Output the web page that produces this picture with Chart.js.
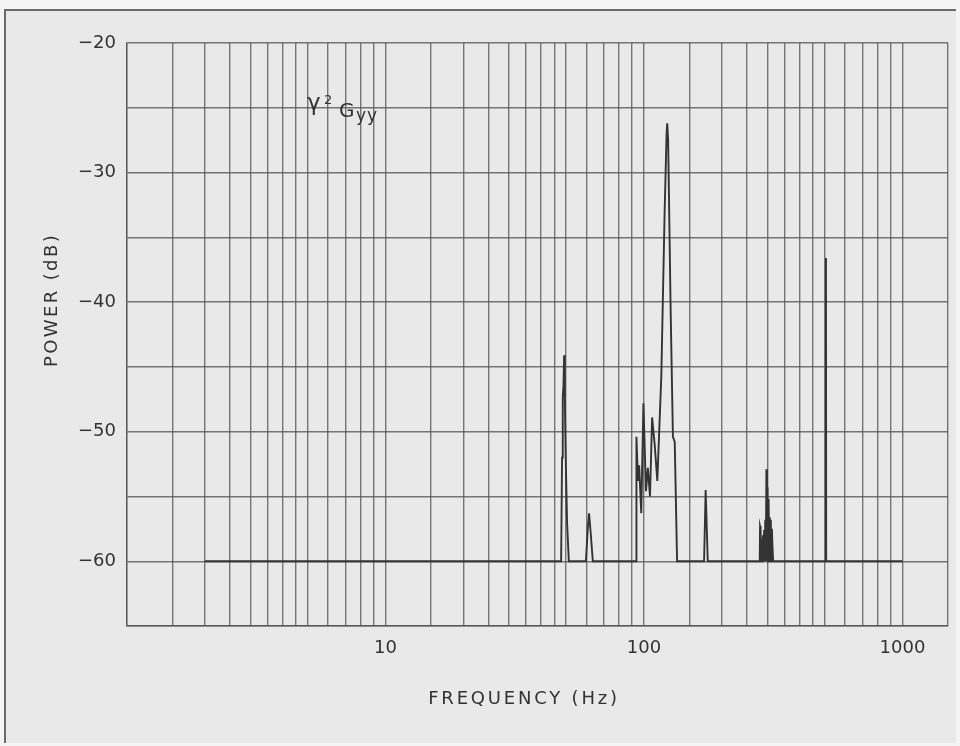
<!DOCTYPE html>
<html>
<head>
<meta charset="utf-8">
<script src="https://cdn.jsdelivr.net/npm/chart.js@4"></script>
<style>
  html, body { margin: 0; padding: 0; background: #f4f4f4; }
  #frame {
    position: absolute; left: 4px; top: 9px; width: 952px; height: 734px;
    background: #e9e9e9;
    border-left: 2px solid #6a6a6a; border-top: 2px solid #6a6a6a;
    box-sizing: border-box;
  }
  canvas { position: absolute; left: 0; top: 0; }
</style>
</head>
<body>
<div id="frame"></div>
<canvas id="c" width="960" height="746"></canvas>
<script>
// spectrum trace (Hz, dB)
const freqHz = [
  2, 47.8, 48.2, 48.5, 48.8, 49.1, 49.4, 49.8, 50.4, 51.2,
  59.6, 60.6, 61.3, 62.2, 63.4,
  93.2, 93.5, 94.8, 95.8, 97.6, 99.5, 101.8, 103.5, 105.5, 107.5,
  110, 112.6, 116.7, 120.2, 122.3, 123.0, 124.0, 126.8, 129.4, 131.5, 134.3,
  170.8, 173.2, 176.5,
  280.4, 281.2, 282.6, 284, 285.5, 287, 288.5, 290, 291.5, 293, 294.5, 296,
  297.6, 299, 300.5, 302, 303.5, 305, 306.5, 308, 309.5, 311, 312.5, 314, 316,
  504.8, 505.8, 506.8,
  1000
];
const powerDb = [
  -60, -60, -52, -47.3, -46.5, -44.1, -47.5, -52, -57, -60,
  -60, -57.5, -56.3, -57.8, -60,
  -60, -50.4, -53.8, -52.6, -56.3, -47.8, -54.6, -52.8, -55, -48.9,
  -51, -53.8, -45.7, -33, -27, -26.2, -27.5, -40.6, -50.4, -50.8, -60,
  -60, -54.5, -60,
  -60, -57.3, -57.5, -60, -58.3, -60, -58, -60, -57.6, -60, -56.8, -60,
  -52.9, -60, -54.3, -60, -55.2, -60, -56.6, -60, -56.8, -60, -57.5, -58.8, -60,
  -60, -36.6, -60,
  -60
];

// log paper rulings: 1, 1.5, 2, 2.5 ... 9 per decade
const mantissas = [1, 1.5, 2, 2.5, 3, 3.5, 4, 4.5, 5, 6, 7, 8, 9];
const decades = [1, 10, 100];
const xGridHz = decades.flatMap(d => mantissas.map(m => m * d)).concat([1000, 1500]);
const xLabels = [10, 100, 1000];

const INK = '#333333';
const GRID = 'rgba(85,85,85,0.78)';
const FONT = 'DejaVu Sans';

// axis titles and the gamma^2 Gyy note
const paperText = {
  id: 'paperText',
  afterDraw(chart) {
    const ctx = chart.ctx;
    ctx.save();
    ctx.fillStyle = INK;

    ctx.font = '18px "' + FONT + '"';
    ctx.letterSpacing = '2.8px';
    ctx.textAlign = 'center';
    ctx.textBaseline = 'middle';
    ctx.fillText('FREQUENCY (Hz)', 524, 699);

    ctx.save();
    ctx.translate(52, 300);
    ctx.rotate(-Math.PI / 2);
    ctx.letterSpacing = '2.4px';
    ctx.fillText('POWER (dB)', 0, 0);
    ctx.restore();

    ctx.letterSpacing = '0px';
    ctx.textAlign = 'left';
    ctx.textBaseline = 'alphabetic';
    ctx.font = '23px "' + FONT + '"';
    ctx.fillText('γ', 307, 110);
    ctx.font = '13px "' + FONT + '"';
    ctx.fillText('2', 324, 104);
    ctx.font = '20px "' + FONT + '"';
    ctx.fillText('G', 339, 117);
    ctx.font = '17px "' + FONT + '"';
    ctx.letterSpacing = '1px';
    ctx.fillText('yy', 356, 121);
    ctx.restore();
  }
};

new Chart(document.getElementById('c').getContext('2d'), {
  type: 'line',
  data: {
    datasets: [{
      data: freqHz.map((f, i) => ({ x: f, y: powerDb[i] })),
      borderColor: INK,
      borderWidth: 1.9,
      pointRadius: 0,
      tension: 0,
      fill: false
    }]
  },
  options: {
    responsive: false,
    animation: false,
    layout: { padding: { top: 43, right: 12, left: 0, bottom: 0 } },
    plugins: {
      legend: { display: false },
      tooltip: { enabled: false }
    },
    scales: {
      x: {
        type: 'logarithmic',
        min: 1,
        max: 1500,
        afterBuildTicks: s => { s.ticks = xGridHz.map(v => ({ value: v })); },
        afterFit: s => { s.height = 120; },
        grid: { color: GRID, lineWidth: 1.4, drawTicks: false },
        border: { display: true, color: GRID, width: 1.4 },
        ticks: {
          autoSkip: false,
          maxRotation: 0,
          padding: 12,
          color: INK,
          font: { family: FONT, size: 18 },
          callback: v => xLabels.includes(v) ? String(v) : ''
        }
      },
      y: {
        min: -65,
        max: -20,
        afterFit: s => { s.width = 127; },
        grid: { color: GRID, lineWidth: 1.4, drawTicks: false },
        border: { display: true, color: GRID, width: 1.4 },
        ticks: {
          stepSize: 5,
          padding: 11,
          color: INK,
          font: { family: FONT, size: 18 },
          callback: v => v % 10 === 0 ? '\u2212' + Math.abs(v) : ''
        }
      }
    }
  },
  plugins: [paperText]
});
</script>
</body>
</html>
